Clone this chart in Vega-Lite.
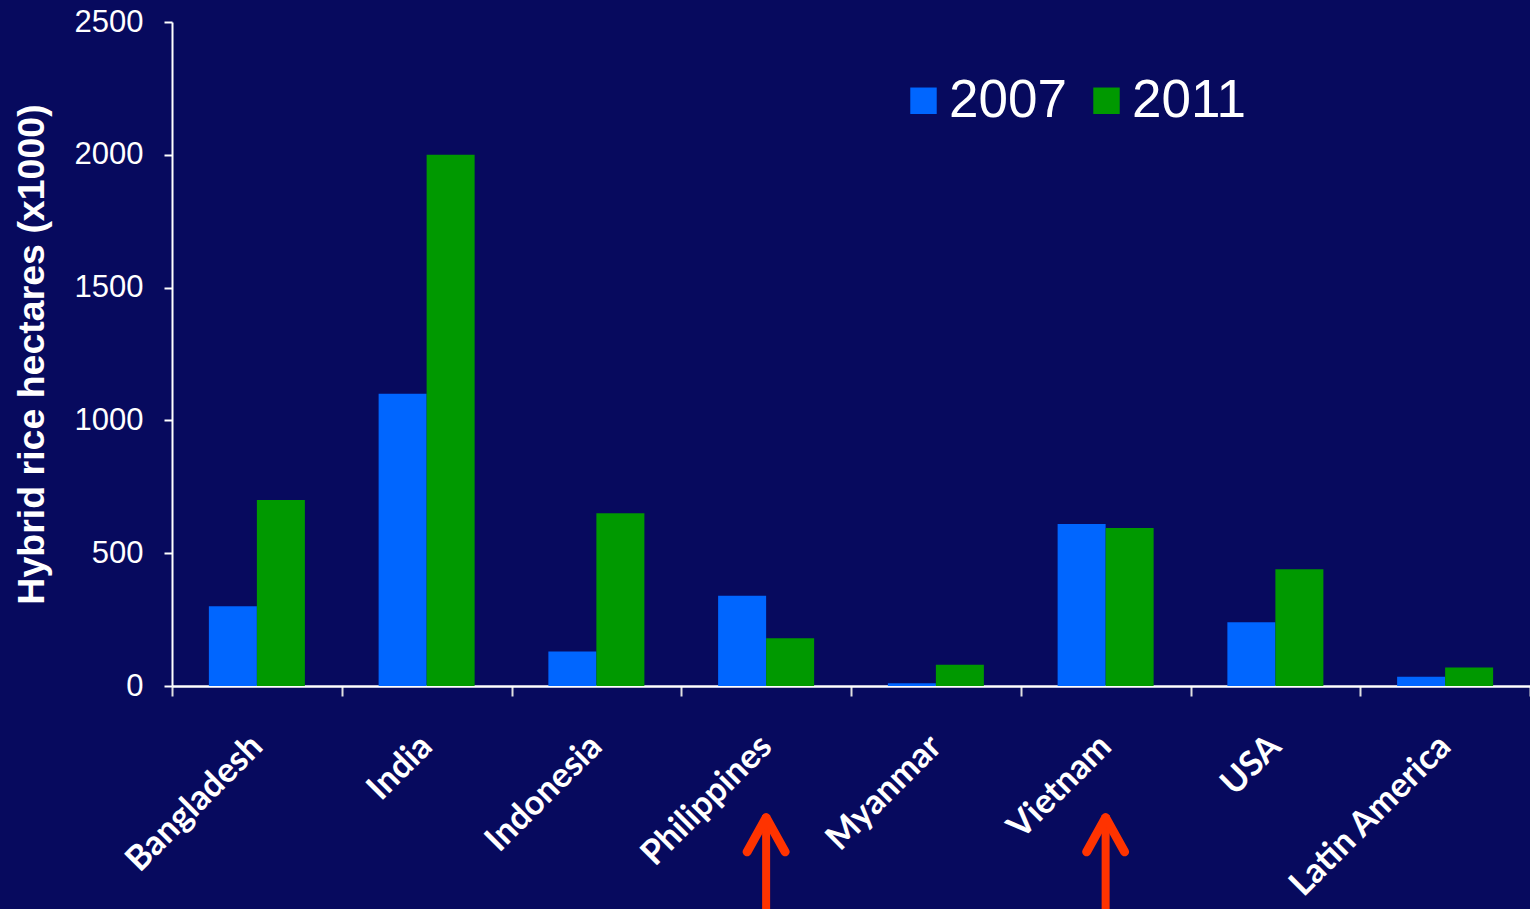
{
  "$schema": "https://vega.github.io/schema/vega-lite/v6.json",
  "autosize": {"type": "none"},
  "padding": {"left": 172, "top": 22, "right": 0, "bottom": 223},
  "width": 1358,
  "height": 664,
  "background": "#070a5e",
  "config": {
    "view": {"stroke": null},
    "font": "Liberation Sans"
  },
  "datasets": {
    "bars": [
      {"country": "Bangladesh", "year": "2007", "hectares": 300},
      {"country": "Bangladesh", "year": "2011", "hectares": 700},
      {"country": "India", "year": "2007", "hectares": 1100},
      {"country": "India", "year": "2011", "hectares": 2000},
      {"country": "Indonesia", "year": "2007", "hectares": 130},
      {"country": "Indonesia", "year": "2011", "hectares": 650},
      {"country": "Philippines", "year": "2007", "hectares": 340},
      {"country": "Philippines", "year": "2011", "hectares": 180},
      {"country": "Myanmar", "year": "2007", "hectares": 10},
      {"country": "Myanmar", "year": "2011", "hectares": 80},
      {"country": "Vietnam", "year": "2007", "hectares": 610},
      {"country": "Vietnam", "year": "2011", "hectares": 595},
      {"country": "USA", "year": "2007", "hectares": 240},
      {"country": "USA", "year": "2011", "hectares": 440},
      {"country": "Latin America", "year": "2007", "hectares": 35},
      {"country": "Latin America", "year": "2011", "hectares": 70}
    ],
    "arrows": [
      {"country": "Philippines", "tip": -486, "tail": -845, "head": -560},
      {"country": "Vietnam", "tip": -486, "tail": -845, "head": -560}
    ]
  },
  "encoding": {
    "x": {
      "field": "country",
      "type": "nominal",
      "sort": ["Bangladesh", "India", "Indonesia", "Philippines", "Myanmar", "Vietnam", "USA", "Latin America"],
      "scale": {"paddingInner": 0, "paddingOuter": 0},
      "axis": {
        "title": null,
        "labelAngle": -45,
        "labelAlign": "right",
        "labelBaseline": "middle",
        "labelFont": "Lato",
        "labelFontWeight": "bold",
        "labelFontSize": 34.5,
        "labelColor": "white",
        "labelPadding": 45,
        "labelLimit": 400,
        "tickBand": "extent",
        "tickSize": 10,
        "tickColor": "#e0e0e0",
        "tickWidth": 2,
        "domainColor": "white",
        "domainWidth": 2.5
      }
    }
  },
  "layer": [
    {
      "data": {"name": "bars"},
      "mark": {"type": "bar", "stroke": null},
      "encoding": {
        "xOffset": {"field": "year", "type": "nominal", "scale": {"paddingInner": 0, "paddingOuter": 0.768}},
        "y": {
          "field": "hectares",
          "type": "quantitative",
          "scale": {"domain": [0, 2500], "nice": false},
          "axis": {
            "values": [0, 500, 1000, 1500, 2000, 2500],
            "format": "d",
            "title": "Hybrid rice hectares (x1000)",
            "titleFont": "Liberation Sans",
            "titleFontWeight": "bold",
            "titleFontSize": 37.5,
            "titleColor": "white",
            "titlePadding": 23,
            "labelFont": "Liberation Sans",
            "labelFontSize": 31,
            "labelColor": "white",
            "labelPadding": 21,
            "tickSize": 8,
            "tickColor": "white",
            "tickWidth": 2,
            "domainColor": "white",
            "domainWidth": 2,
            "grid": false
          }
        },
        "color": {
          "field": "year",
          "type": "nominal",
          "scale": {"domain": ["2007", "2011"], "range": ["#0066ff", "#009900"]},
          "legend": {
            "orient": "none",
            "legendX": 725,
            "legendY": 52,
            "direction": "horizontal",
            "title": null,
            "symbolType": "square",
            "symbolSize": 700,
            "symbolStrokeWidth": 0,
            "labelFont": "Liberation Sans",
            "labelFontSize": 53,
            "labelColor": "white",
            "labelOffset": -1,
            "columnPadding": 13,
            "padding": 0
          }
        }
      }
    },
    {
      "data": {"name": "arrows"},
      "mark": {"type": "rule", "color": "#ff3300", "strokeWidth": 8, "clip": false},
      "encoding": {
        "y": {"field": "tip", "type": "quantitative"},
        "y2": {"field": "tail"}
      }
    },
    {
      "data": {"name": "arrows"},
      "mark": {
        "type": "point",
        "shape": "M-1,0.9L0,-0.9L1,0.9",
        "filled": false,
        "stroke": "#ff3300",
        "strokeWidth": 9,
        "strokeCap": "round",
        "strokeJoin": "round",
        "size": 1444,
        "opacity": 1,
        "clip": false
      },
      "encoding": {
        "y": {"field": "head", "type": "quantitative"}
      }
    }
  ]
}
